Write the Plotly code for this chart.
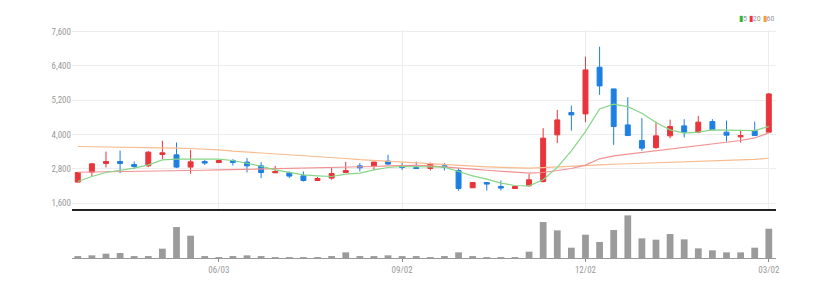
import plotly.graph_objects as go

# ---- data (weekly candles) ----
idx = list(range(50))
opens = [2334, 2684, 2985, 3055, 2950, 2904, 3300, 3289, 2859, 3055,
         3020, 3090, 3034, 2904, 2660, 2660, 2555, 2390, 2474, 2670,
         2904, 2904, 3070, 2880, 2845, 2810, 2904, 2740, 2135, 2320,
         2180, 2110, 2205, 2355, 3988, 4770, 4723, 6356, 5597, 4338,
         3789, 3544, 3953, 4303, 4083, 4453, 4083, 3918, 4139, 4083]
highs = [2690, 2990, 3404, 3440, 3055, 3420, 3780, 3720, 3464, 3114,
         3110, 3140, 3174, 3034, 2904, 2705, 2705, 2510, 2824, 3044,
         3000, 3050, 3290, 3020, 3055, 3020, 3000, 2824, 2330, 2330,
         2390, 2190, 2614, 4223, 4863, 5013, 6727, 7076, 5600, 5306,
         4573, 4453, 4520, 4538, 4653, 4538, 4488, 4163, 4453, 5450]
lows = [2320, 2530, 2845, 2650, 2790, 2860, 3140, 2824, 2625, 2939,
        3010, 2915, 2670, 2474, 2655, 2474, 2355, 2380, 2415, 2660,
        2705, 2760, 2940, 2760, 2800, 2740, 2740, 2030, 2130, 2040,
        2040, 2100, 2180, 2320, 3698, 4139, 4433, 5387, 3639, 3950,
        3429, 3495, 3870, 3900, 4044, 4150, 3754, 3719, 3950, 4070]
closes = [2670, 2974, 3055, 2985, 2880, 3383, 3360, 2859, 3044, 3000,
          3090, 3020, 2904, 2670, 2705, 2544, 2390, 2460, 2635, 2740,
          2834, 3034, 2964, 2845, 2810, 2974, 2845, 2110, 2320, 2264,
          2125, 2180, 2415, 3873, 4513, 4688, 6262, 5702, 4279, 3964,
          3523, 3953, 4279, 4083, 4433, 4163, 3978, 3964, 3964, 5422]
ma5 = [2355, 2530, 2670, 2740, 2824, 2940, 3114, 3140, 3140, 3120,
       3140, 3090, 3000, 2890, 2760, 2670, 2590, 2555, 2530, 2614,
       2650, 2765, 2845, 2880, 2880, 2880, 2860, 2705, 2555, 2440,
       2300, 2215, 2205, 2415, 2850, 3430, 4104, 4898, 5062, 4978,
       4747, 4420, 4163, 4048, 4083, 4163, 4163, 4139, 4139, 4279]
ma20 = [2680, 2685, 2690, 2700, 2705, 2710, 2720, 2730, 2740, 2750,
        2760, 2770, 2780, 2790, 2795, 2800, 2810, 2820, 2830, 2845,
        2860, 2880, 2900, 2920, 2920, 2900, 2870, 2830, 2790, 2750,
        2710, 2680, 2650, 2670, 2730, 2810, 2930, 3150, 3250, 3310,
        3360, 3420, 3470, 3530, 3590, 3650, 3720, 3790, 3880, 4060]
ma60 = [3580, 3575, 3570, 3565, 3560, 3550, 3540, 3525, 3510, 3490,
        3465, 3420, 3390, 3360, 3330, 3300, 3270, 3240, 3200, 3160,
        3120, 3090, 3060, 3030, 3000, 2980, 2950, 2920, 2890, 2870,
        2850, 2835, 2825, 2840, 2870, 2900, 2920, 2940, 2960, 2975,
        2990, 3000, 3015, 3030, 3045, 3060, 3080, 3100, 3130, 3170]
volume = [5, 8, 13, 15, 4, 5, 28, 93, 67, 5,
          1, 3, 8, 3, 2, 2, 2, 2, 3, 17,
          3, 4, 8, 3, 5, 2, 3, 17, 3, 2,
          2, 2, 19, 108, 83, 31, 70, 48, 84, 128,
          59, 55, 72, 56, 29, 23, 17, 17, 31, 88]
tick_idx = [10, 23, 36, 49]
tick_labels = ["06/03", "09/02", "12/02", "03/02"]
price_ticks = [1600, 2800, 4000, 5200, 6400, 7600]

RED = "#e8353b"
BLUE = "#1e7fe3"
FONT = "Liberation Sans Narrow, Arial Narrow, Roboto Condensed, Liberation Sans, sans-serif"

fig = go.Figure()
fig.add_trace(go.Candlestick(
    x=idx, open=opens, high=highs, low=lows, close=closes,
    increasing=dict(line=dict(color=RED, width=1), fillcolor=RED),
    decreasing=dict(line=dict(color=BLUE, width=1), fillcolor=BLUE),
    whiskerwidth=0, showlegend=False, xaxis="x", yaxis="y"))
fig.add_trace(go.Scatter(x=idx, y=ma60, mode="lines", line=dict(color="#f7bb8e", width=1.2),
                         showlegend=False, xaxis="x", yaxis="y"))
fig.add_trace(go.Scatter(x=idx, y=ma20, mode="lines", line=dict(color="#f29191", width=1.2),
                         showlegend=False, xaxis="x", yaxis="y"))
fig.add_trace(go.Scatter(x=idx, y=ma5, mode="lines", line=dict(color="#86d686", width=1.2),
                         showlegend=False, xaxis="x", yaxis="y"))
fig.add_trace(go.Bar(x=idx, y=volume, marker=dict(color="#9b9b9b", line=dict(width=0)),
                     showlegend=False, xaxis="x2", yaxis="y2"))

split = 0.2146
fig.update_layout(
    width=829, height=291,
    margin=dict(l=71.5, r=52.5, t=30, b=32.7),
    paper_bgcolor="white", plot_bgcolor="white",
    font=dict(family=FONT, size=9, color="#999999"),
    boxgap=0.5, bargap=0.52,
    xaxis=dict(domain=[0, 1], anchor="y", range=[-0.41, 49.51],
               tickvals=tick_idx, showticklabels=False, ticks="",
               showgrid=True, gridcolor="#ededed", gridwidth=1,
               showline=True, linecolor="#222222", linewidth=2,
               zeroline=False, rangeslider=dict(visible=False)),
    yaxis=dict(domain=[split, 1], anchor="x", range=[1390, 7660],
               tickvals=price_ticks, tickformat=",d", ticks="",
               showgrid=True, gridcolor="#ededed", gridwidth=1,
               showline=False, zeroline=False,
               tickfont=dict(family=FONT, size=9, color="#999999")),
    xaxis2=dict(domain=[0, 1], anchor="y2", matches="x", range=[-0.41, 49.51],
                tickvals=tick_idx, ticktext=tick_labels,
                ticks="outside", ticklen=3, tickcolor="#888888",
                showgrid=False, showline=True, linecolor="#999999", linewidth=1,
                zeroline=False,
                tickfont=dict(family=FONT, size=9, color="#999999")),
    yaxis2=dict(domain=[0, split], anchor="x2", range=[0, 147],
                showticklabels=False, showgrid=False, zeroline=False, ticks=""),
    annotations=[dict(
        xref="paper", yref="paper", x=1.0, y=1.0526, xanchor="right", yanchor="middle",
        showarrow=False,
        text=("<span style='color:#33b533'>▮</span>5 "
              "<span style='color:#ee3344'>▮</span>20 "
              "<span style='color:#f59a3c'>▮</span>60"),
        font=dict(family=FONT, size=8, color="#999999"))],
)

fig.write_html("out.html")
